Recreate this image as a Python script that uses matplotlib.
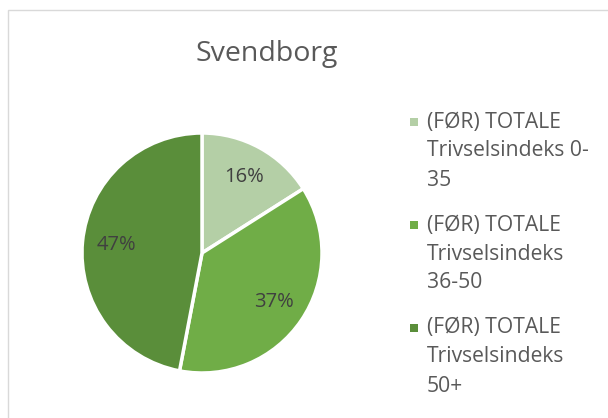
import matplotlib
matplotlib.use("Agg")
import matplotlib.pyplot as plt
from matplotlib.patches import Rectangle

title = "Svendborg"
categories = ["(FØR) TOTALE\nTrivselsindeks 0-\n35",
              "(FØR) TOTALE\nTrivselsindeks\n36-50",
              "(FØR) TOTALE\nTrivselsindeks\n50+"]
values = [16, 37, 47]
colors = ["#b4cfa6", "#70ad47", "#5a8e3a"]

W, H = 608, 418
fig = plt.figure(figsize=(W / 100, H / 100), dpi=100)
fig.patch.set_facecolor("white")
plt.rcParams['font.family'] = ['Open Sans', 'DejaVu Sans']

# chart frame
fig.patches.append(Rectangle((8 / W, -0.05), 1.2, (H - 10) / H + 0.05,
                             transform=fig.transFigure, fill=False,
                             edgecolor="#d9d9d9", linewidth=1.0))

cx, cy, r = 202, 253, 120
ax = fig.add_axes([(cx - r) / W, (H - cy - r) / H, 2 * r / W, 2 * r / H])
wedges, texts, autotexts = ax.pie(values, colors=colors, startangle=90, counterclock=False,
                                  autopct=lambda p: f"{p:.0f}%", pctdistance=0.72,
                                  wedgeprops=dict(edgecolor="white", linewidth=2.5),
                                  textprops=dict(fontsize=14.5, color="#404040"))
ax.set_xlim(-1.0, 1.0)
ax.set_ylim(-1.0, 1.0)
ax.set_aspect("equal")
ax.axis("off")

fig.text(267 / W, 1 - 54 / H, title, ha="center", va="center", fontsize=20.5, color="#595959")

# legend
x_mark, x_text = 410, 427
y0, step, line_h = 122, 103, 29
for i, (lab, col) in enumerate(zip(categories, colors)):
    y = y0 + i * step
    fig.patches.append(Rectangle((x_mark / W, 1 - (y + 4) / H), 8 / W, 8 / H,
                                 transform=fig.transFigure, facecolor=col, edgecolor="none"))
    for j, line in enumerate(lab.split("\n")):
        fig.text(x_text / W, 1 - (y + j * line_h) / H, line, ha="left", va="center",
                 fontsize=15.2, color="#595959")

fig.savefig("out.png", dpi=100)
